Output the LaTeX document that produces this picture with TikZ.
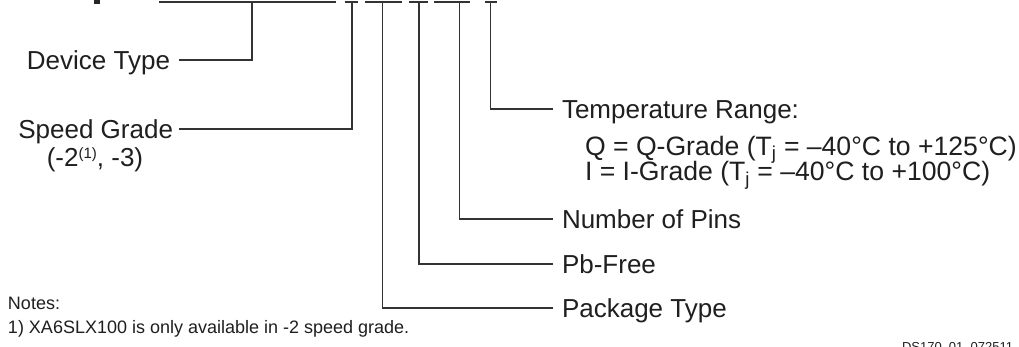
\documentclass[tikz,border=0pt]{standalone}
\usepackage{fontspec}
\setmainfont{Liberation Sans}
\begin{document}
\begin{tikzpicture}[x=1pt,y=-1pt,
  lbl/.style={inner sep=0pt,outer sep=0pt,text=black!88,font=\fontsize{26}{30}\selectfont},
  lblq/.style={inner sep=0pt,outer sep=0pt,text=black!88,font=\fontsize{26.6}{30}\selectfont},
  note/.style={inner sep=0pt,outer sep=0pt,text=black!88,font=\fontsize{18}{21}\selectfont},
  tag/.style={inner sep=0pt,outer sep=0pt,text=black!88,font=\fontsize{13}{15}\selectfont},
  wire/.style={draw=black!80,line width=1.2pt}]
\clip (0,0) rectangle (1019,346);
\fill[white] (0,0) rectangle (1019,346);
% fragment of cut-off title
\fill[black!85] (94,0) rectangle (100,4);
% top underline segments
\draw[wire] (159,2) -- (336,2);
\draw[wire] (345,2) -- (358,2);
\draw[wire] (365,2) -- (402,2);
\draw[wire] (409,2) -- (428,2);
\draw[wire] (434,2) -- (470,2);
\draw[wire] (485,2) -- (497,2);
% tap points
\coordinate (t1) at (252,2);
\coordinate (t2) at (352,2);
\coordinate (t3) at (382.5,2);
\coordinate (t4) at (419,2);
\coordinate (t5) at (459.5,2);
\coordinate (t6) at (490.5,2);
% line ends near labels
\coordinate (e1) at (179,60);
\coordinate (e2) at (179,129);
\coordinate (e6) at (553,109);
\coordinate (e5) at (553,219);
\coordinate (e4) at (553,264);
\coordinate (e3) at (553,308);
% labels
\node[lbl,anchor=base east] (dev) at (170,69) {Device Type};
\node[lbl,anchor=base east] (spd) at (173,138.5) {Speed Grade};
\node[lbl,anchor=base] (spd2) at (95,166) {(-2{\fontsize{15}{15}\selectfont\raisebox{8pt}{(1)}}, -3)};
\node[lbl,anchor=base west] (tmp) at (562,118.5) {Temperature Range:};
\node[lblq,anchor=base west] (tq) at (585,155) {Q = Q-Grade (T\textsubscript{j} = –40°C to +125°C)};
\node[lblq,anchor=base west] (ti) at (585,180.5) {I = I-Grade (T\textsubscript{j} = –40°C to +100°C)};
\node[lbl,anchor=base west] (pins) at (562,228.5) {Number of Pins};
\node[lbl,anchor=base west] (pb) at (562,273.5) {Pb-Free};
\node[lbl,anchor=base west] (pkg) at (562,317.5) {Package Type};
\node[note,anchor=base west] (notes) at (8,309) {Notes:};
\node[note,anchor=base west] (n1) at (8,333) {1) XA6SLX100 is only available in -2 speed grade.};
\node[tag,anchor=base west] (ds) at (902,351.5) {DS170\_01\_072511};
% connectors
\draw[wire] (e1) -| (t1);
\draw[wire] (e2) -| (t2);
\draw[wire] (e3) -| (t3);
\draw[wire] (e4) -| (t4);
\draw[wire] (e5) -| (t5);
\draw[wire] (e6) -| (t6);
\end{tikzpicture}
\end{document}
